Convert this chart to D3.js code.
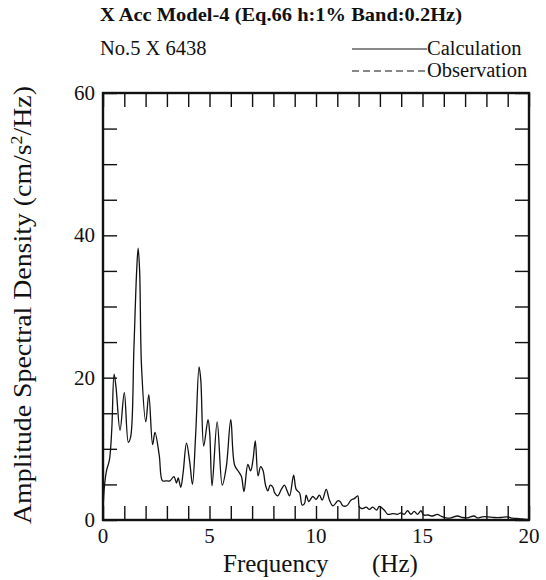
<!DOCTYPE html>
<head>
  <meta charset="utf-8">
  <style>
  body{
    margin:0;
    background:white;
  }
  text{
    font-family: "Liberation Serif", "DejaVu Serif", serif;
    fill:#111;
  }
  .axis path, .axis line{
    stroke:#111;
  }
  </style>
</head>
<body>
  <svg width="546" height="580"></svg>
  <script src="https://d3js.org/d3.v7.min.js"></script>
  <script>

  // spectrum: frequency (Hz) and amplitude (cm/s^2/Hz)
  var freq = [0, 0.06, 0.17, 0.3, 0.41, 0.52, 0.61, 0.8, 1.0, 1.19, 1.3, 1.45, 1.58, 1.65, 1.72, 1.81, 2.01, 2.15, 2.33, 2.44, 2.64, 2.79, 2.95, 3.14, 3.33, 3.45, 3.53, 3.65, 3.76, 3.92, 4.07, 4.2, 4.35, 4.51, 4.59, 4.73, 4.93, 5.01, 5.12, 5.36, 5.6, 5.79, 6.0, 6.18, 6.39, 6.5, 6.62, 6.8, 6.93, 7.04, 7.15, 7.28, 7.4, 7.51, 7.63, 7.74, 7.85, 7.98, 8.06, 8.21, 8.37, 8.52, 8.63, 8.76, 8.95, 9.07, 9.23, 9.35, 9.46, 9.54, 9.66, 9.85, 10.0, 10.16, 10.29, 10.48, 10.63, 10.79, 10.91, 11.02, 11.13, 11.26, 11.44, 11.65, 11.8, 11.96, 12.04, 12.19, 12.35, 12.51, 12.66, 12.85, 12.97, 13.2, 13.37, 13.6, 13.83, 13.99, 14.14, 14.3, 14.46, 14.61, 14.77, 14.93, 15.05, 15.27, 15.47, 15.7, 15.86, 16.1, 16.34, 16.64, 16.88, 17.1, 17.42, 17.58, 17.81, 18.05, 18.36, 18.67, 18.98, 19.22, 19.53, 19.84, 20];
  var calc = [1.0, 4.5, 7.0, 8.4, 12.6, 20.5, 18.7, 12.6, 17.9, 10.9, 11.7, 24, 35, 38.2, 35, 21.5, 13.8, 17.6, 10.6, 12.3, 9.1, 5.5, 5.5, 5.5, 6.1, 5.2, 5.9, 4.6, 6.6, 10.8, 8.2, 5.0, 12, 21.5, 19.7, 10.4, 14.1, 12.2, 4.8, 13.8, 4.9, 7.5, 14.1, 7.7, 6.7, 6.1, 4.0, 7.8, 6.9, 8.4, 11.1, 6.2, 7.5, 7.0, 4.9, 4.1, 4.9, 4.6, 3.8, 3.4, 4.3, 4.9, 4.2, 3.4, 6.3, 4.3, 3.8, 2.1, 2.3, 3.5, 2.6, 3.3, 2.9, 3.5, 2.8, 4.3, 2.8, 2.0, 2.3, 2.7, 2.6, 2.0, 2.0, 2.8, 3.0, 3.4, 1.8, 1.6, 1.8, 1.5, 1.8, 1.4, 1.9, 1.4, 0.8, 0.9, 0.8, 1.0, 0.8, 1.3, 0.8, 1.2, 0.8, 1.3, 0.7, 0.7, 0.56, 0.8, 0.56, 0.3, 0.3, 0.56, 0.35, 0.3, 0.56, 0.3, 0.45, 0.45, 0.35, 0.35, 0.45, 0.25, 0.2, 0.1, 0.1];

  var xTicks = [0, 5, 10, 15, 20];
  var yTicks = [0, 20, 40, 60];

  var svg = d3.select("svg"),
      plotL = 103, plotR = 529, plotT = 93, plotB = 520;

  var x = d3.scaleLinear().domain([0, 20]).range([plotL, plotR]);
  var y = d3.scaleLinear().domain([0, 60]).range([plotB, plotT]);

  var tickLen = 14;

  // inward ticks on all four sides
  svg.append("g").attr("class", "axis")
      .attr("transform", "translate(0," + plotB + ")")
      .call(d3.axisTop(x).ticks(20).tickSize(tickLen).tickFormat(""));
  svg.append("g").attr("class", "axis")
      .attr("transform", "translate(0," + plotT + ")")
      .call(d3.axisBottom(x).ticks(20).tickSize(tickLen).tickFormat(""));
  svg.append("g").attr("class", "axis")
      .attr("transform", "translate(" + plotL + ",0)")
      .call(d3.axisRight(y).ticks(12).tickSize(tickLen).tickFormat(""));
  svg.append("g").attr("class", "axis")
      .attr("transform", "translate(" + plotR + ",0)")
      .call(d3.axisLeft(y).ticks(12).tickSize(tickLen).tickFormat(""));
  svg.selectAll(".axis path").remove();
  svg.selectAll(".axis line").attr("stroke-width", 1.4);

  svg.append("rect")
      .attr("x", plotL).attr("y", plotT)
      .attr("width", plotR - plotL).attr("height", plotB - plotT)
      .attr("fill", "none").attr("stroke", "#111").attr("stroke-width", 2.4);

  // tick labels
  svg.selectAll(".xl").data(xTicks).enter().append("text")
      .attr("x", function(d) { return x(d); })
      .attr("y", plotB + 23)
      .attr("text-anchor", "middle")
      .style("font-size", "21px")
      .text(function(d) { return d; });
  svg.selectAll(".yl").data(yTicks).enter().append("text")
      .attr("x", plotL - 8)
      .attr("y", function(d) { return y(d) + 7; })
      .attr("text-anchor", "end")
      .style("font-size", "21px")
      .text(function(d) { return d; });

  var line = d3.line()
      .x(function(d, i) { return x(freq[i]); })
      .y(function(d) { return y(d); })
      .curve(d3.curveCatmullRom.alpha(0.5));

  svg.append("path")
      .datum(calc)
      .attr("d", line)
      .attr("fill", "none")
      .attr("stroke", "#111")
      .attr("stroke-width", 1.3);

  // titles
  svg.append("text").attr("x", 100).attr("y", 21)
      .style("font-size", "19px").style("font-weight", "bold")
      .attr("textLength", 362).attr("lengthAdjust", "spacingAndGlyphs")
      .text("X Acc Model-4 (Eq.66 h:1% Band:0.2Hz)");
  svg.append("text").attr("x", 100).attr("y", 55)
      .style("font-size", "20.5px")
      .text("No.5 X 6438");

  // legend
  svg.append("line").attr("x1", 352).attr("x2", 427).attr("y1", 49).attr("y2", 49)
      .attr("stroke", "#111").attr("stroke-width", 1);
  svg.append("line").attr("x1", 352).attr("x2", 427).attr("y1", 71).attr("y2", 71)
      .attr("stroke", "#111").attr("stroke-width", 1).attr("stroke-dasharray", "7,4");
  svg.append("text").attr("x", 427).attr("y", 55).style("font-size", "20.5px").text("Calculation");
  svg.append("text").attr("x", 427).attr("y", 77).style("font-size", "20.5px").text("Observation");

  // axis titles
  svg.append("text").attr("x", 223).attr("y", 572).style("font-size", "25px").text("Frequency");
  svg.append("text").attr("x", 372).attr("y", 572).style("font-size", "25px").text("(Hz)");

  var yt = svg.append("text")
      .attr("transform", "translate(31," + 305 + ") rotate(-90)")
      .attr("text-anchor", "middle")
      .attr("textLength", 438).attr("lengthAdjust", "spacingAndGlyphs")
      .style("font-size", "25px");
  yt.append("tspan").text("Amplitude Spectral Density (cm/s");
  yt.append("tspan").attr("dy", -9).style("font-size", "16px").text("2");
  yt.append("tspan").attr("dy", 9).text("/Hz)");

  </script>
</body>
